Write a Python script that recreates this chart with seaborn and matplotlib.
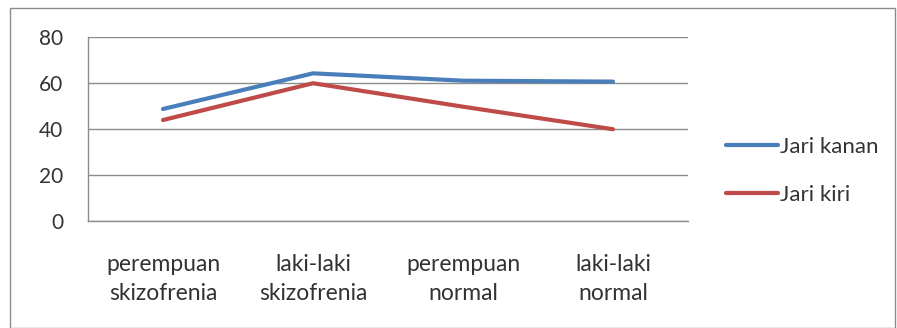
import matplotlib
matplotlib.use("Agg")
import matplotlib.pyplot as plt
import seaborn as sns
import pandas as pd
from matplotlib.patches import Rectangle
from matplotlib.lines import Line2D

categories = ["perempuan\nskizofrenia", "laki-laki\nskizofrenia", "perempuan\nnormal", "laki-laki\nnormal"]
jari_kanan = [48.7, 64.2, 61.0, 60.6]
jari_kiri = [43.9, 59.9, 49.7, 39.9]
series_names = ["Jari kanan", "Jari kiri"]
y_ticks = [0, 20, 40, 60, 80]

df = pd.DataFrame({
    "pos": list(range(len(categories))) * 2,
    "value": jari_kanan + jari_kiri,
    "series": [series_names[0]] * len(categories) + [series_names[1]] * len(categories),
})

sns.set_style("white")
plt.rcParams["font.family"] = ["Lato", "DejaVu Sans"]

W, H = 897, 328
fig = plt.figure(figsize=(W / 100, H / 100), dpi=100)
ax = fig.add_axes([88 / W, 1 - 221 / H, 600 / W, 184 / H])

palette = {"Jari kanan": "#4A7EBB", "Jari kiri": "#BE4B48"}
sns.lineplot(data=df, x="pos", y="value", hue="series", palette=palette,
             linewidth=3.0, ax=ax, legend=False, sort=False)

text_color = "#333333"
ax.set_xlim(-0.5, len(categories) - 0.5)
ax.set_ylim(0, 80)
ax.set_yticks(y_ticks)
ax.set_yticklabels([str(t) for t in y_ticks], fontsize=15, color=text_color)
ax.yaxis.grid(True, color="#8c8c8c", linewidth=1.0)
ax.set_axisbelow(True)
ax.set_xticks([i - 0.5 for i in range(len(categories) + 1)])
ax.set_xticklabels([])
ax.set_xticks(range(len(categories)), minor=True)
ax.set_xticklabels(categories, minor=True, fontsize=16.5, color=text_color, linespacing=1.45)
ax.tick_params(axis="x", which="minor", length=0, pad=24)
ax.tick_params(axis="x", which="major", length=7, color="#8c8c8c", width=1, direction="out")
ax.tick_params(axis="y", length=7, color="#8c8c8c", width=1, direction="out", pad=11)
for side in ["top", "right"]:
    ax.spines[side].set_visible(False)
for side in ["left", "bottom"]:
    ax.spines[side].set_color("#8c8c8c")
    ax.spines[side].set_linewidth(1.0)
ax.set_xlabel("")
ax.set_ylabel("")

# Legend
handles = [Line2D([0], [0], color=palette[s], linewidth=3.0) for s in series_names]
leg = fig.legend(handles, series_names, loc="center left",
                 bbox_to_anchor=(706 / W, 1 - 171 / H), frameon=False,
                 fontsize=16, handlelength=2.35, handletextpad=0.1,
                 labelspacing=1.25, labelcolor=text_color)

# outer chart border
fig.patches.append(Rectangle((10 / W, 0), 885 / W, 1 - 8 / H, transform=fig.transFigure,
                             fill=False, edgecolor="#8c8c8c", linewidth=1.0))

fig.savefig("out.png", dpi=100)
